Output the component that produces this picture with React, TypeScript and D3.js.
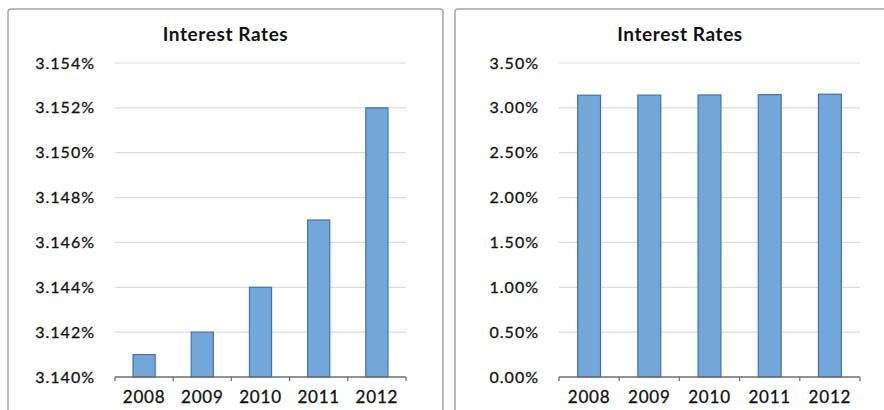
import * as d3 from 'd3';

const years = ['2008', '2009', '2010', '2011', '2012'];
const rates = [3.141, 3.142, 3.144, 3.147, 3.152];
const zoomTicks = [3.14, 3.142, 3.144, 3.146, 3.148, 3.15, 3.152, 3.154];
const fullTicks = [0, 0.5, 1, 1.5, 2, 2.5, 3, 3.5];

const FONT = 'Lato, "Open Sans", sans-serif';

interface PanelProps {
  box: [number, number, number, number];
  xRange: [number, number];
  domain: [number, number];
  ticks: number[];
  digits: number;
  labelX: number;
}

function Panel({ box, xRange, domain, ticks, digits, labelX }: PanelProps) {
  const [bx, by, bw, bh] = box;
  const x = d3.scaleBand<string>().domain(years).range(xRange).paddingInner(0.62).paddingOuter(0.31);
  const y = d3.scaleLinear().domain(domain).range([377, 63]);
  const fmt = (v: number) => v.toFixed(digits) + '%';
  // tick marks sit on the category boundaries
  const boundaries = d3.range(years.length + 1).map(i => xRange[0] + i * (xRange[1] - xRange[0]) / years.length);
  return (
    <g>
      <rect x={bx} y={by} width={bw} height={bh} rx={3} fill="#fff" stroke="#a3a7ab" strokeWidth={1.5} />
      <text x={bx + bw / 2} y={41} textAnchor="middle" fontFamily={FONT} fontWeight={700} fontSize={19} letterSpacing={0.6} fill="#111">
        Interest Rates
      </text>
      {ticks.map(t => (
        <g key={t}>
          {t !== domain[0] && (
            <line x1={xRange[0]} x2={xRange[1]} y1={y(t)} y2={y(t)} stroke="#dcdcdc" strokeWidth={1.2} />
          )}
          <text x={labelX} y={y(t) + 5.5} textAnchor="end" fontFamily={FONT} fontSize={16} fill="#111" stroke="#111" strokeWidth={0.3} letterSpacing={1}>
            {fmt(t)}
          </text>
        </g>
      ))}
      {years.map((yr, i) => (
        <rect
          key={yr}
          x={x(yr)}
          y={y(rates[i])}
          width={x.bandwidth()}
          height={y(domain[0]) - y(rates[i])}
          fill="#73a6d9"
          stroke="#3f72b3"
          strokeWidth={1.2}
        />
      ))}
      <line x1={xRange[0]} x2={xRange[1]} y1={y(domain[0])} y2={y(domain[0])} stroke="#6e6e6e" strokeWidth={1.3} />
      {boundaries.map((b, i) => (
        <line key={i} x1={b} x2={b} y1={y(domain[0])} y2={y(domain[0]) + 4} stroke="#6e6e6e" strokeWidth={1.3} />
      ))}
      {years.map(yr => (
        <text key={yr} x={(x(yr) ?? 0) + x.bandwidth() / 2} y={403} textAnchor="middle" fontFamily={FONT} fontSize={17} fill="#111" stroke="#111" strokeWidth={0.3} letterSpacing={0.8}>
          {yr}
        </text>
      ))}
    </g>
  );
}

export default function App() {
  return (
    <div style={{ position: 'absolute', left: 0, top: 0 }}>
      <svg width={884} height={410} style={{ display: 'block', background: '#fff' }}>
        <Panel box={[8, 9, 435, 420]} xRange={[115, 406]} domain={[3.14, 3.154]} ticks={zoomTicks} digits={3} labelX={95} />
        <Panel box={[455, 9, 450, 420]} xRange={[559, 860]} domain={[0, 3.5]} ticks={fullTicks} digits={2} labelX={539} />
      </svg>
    </div>
  );
}
